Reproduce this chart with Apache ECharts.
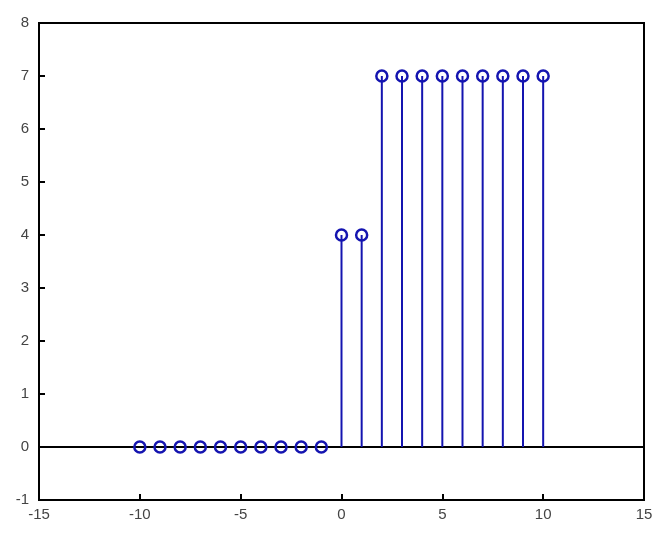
<!DOCTYPE html>
<html>
<head>
<meta charset="utf-8">
<script src="https://cdn.jsdelivr.net/npm/echarts@6/dist/echarts.min.js"></script>
<style>
  html, body { margin: 0; padding: 0; background: #fff; }
  #main { width: 670px; height: 538px; }
</style>
</head>
<body>
<div id="main"></div>
<script>
// sample index n and stem value
var nValues = [-10, -9, -8, -7, -6, -5, -4, -3, -2, -1, 0, 1, 2, 3, 4, 5, 6, 7, 8, 9, 10];
var stemValues = [0, 0, 0, 0, 0, 0, 0, 0, 0, 0, 4, 4, 7, 7, 7, 7, 7, 7, 7, 7, 7];

var points = nValues.map(function (n, i) { return [n, stemValues[i]]; });
var stemColor = '#1414b0';

var myChart = echarts.init(document.getElementById('main'));
myChart.setOption({
    animation: false,
    backgroundColor: '#fff',
    grid: {
        left: 39, right: 26, top: 23, bottom: 38,
        show: true, borderColor: '#000', borderWidth: 2
    },
    xAxis: {
        type: 'value', min: -15, max: 15, interval: 5,
        axisLine: { show: true, onZero: false, lineStyle: { color: '#000', width: 2 } },
        axisTick: { inside: true, length: 6, lineStyle: { color: '#000', width: 2 } },
        axisLabel: { color: '#444', fontSize: 15, fontFamily: 'Liberation Sans', margin: 7 },
        splitLine: { show: false }
    },
    yAxis: {
        type: 'value', min: -1, max: 8, interval: 1,
        axisLine: { show: true, onZero: false, lineStyle: { color: '#000', width: 2 } },
        axisTick: { inside: true, length: 6, lineStyle: { color: '#000', width: 2 } },
        axisLabel: { color: '#444', fontSize: 15, fontFamily: 'Liberation Sans', margin: 10 },
        splitLine: { show: false }
    },
    series: [
        {
            // stems
            type: 'custom',
            data: points,
            renderItem: function (params, api) {
                var top = api.coord([api.value(0), api.value(1)]);
                var base = api.coord([api.value(0), 0]);
                return {
                    type: 'line',
                    shape: { x1: top[0], y1: top[1], x2: base[0], y2: base[1] },
                    style: { stroke: stemColor, lineWidth: 2 }
                };
            },
            z: 2
        },
        {
            // baseline
            type: 'line',
            data: [[-15, 0], [15, 0]],
            symbol: 'none',
            lineStyle: { color: '#000', width: 2 },
            silent: true,
            z: 1
        },
        {
            // markers, unfilled like matlab stem
            type: 'scatter',
            data: points,
            symbol: 'circle',
            symbolSize: 11,
            itemStyle: { color: 'rgba(0,0,0,0)', borderColor: stemColor, borderWidth: 2.5, opacity: 1 },
            z: 3
        }
    ]
});
</script>
</body>
</html>
